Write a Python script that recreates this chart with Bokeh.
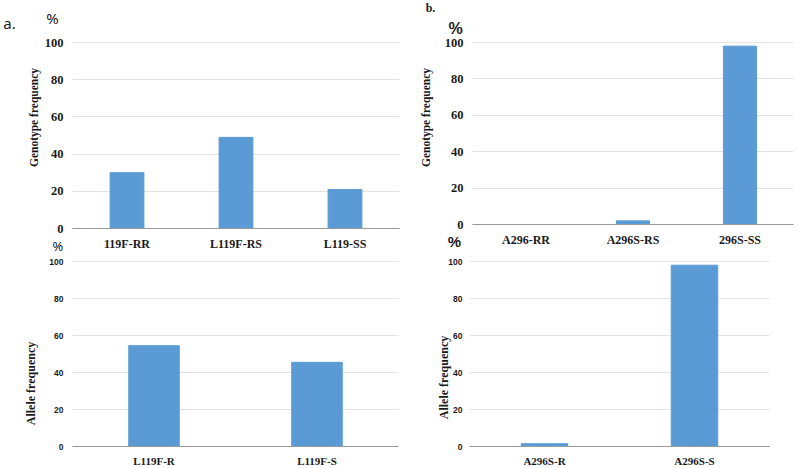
import math
from bokeh.plotting import figure
from bokeh.models import Label, FixedTicker, Range1d, Grid
from bokeh.layouts import column, row
from bokeh.embed import file_html
from bokeh.resources import INLINE

# ---- data ----
geno_a_cats = ["119F-RR", "L119F-RS", "L119-SS"]
geno_a_vals = [30, 49, 21]
geno_b_cats = ["A296-RR", "A296S-RS", "296S-SS"]
geno_b_vals = [0, 2, 98]
allele_a_cats = ["L119F-R", "L119F-S"]
allele_a_vals = [54.5, 45.5]
allele_b_cats = ["A296S-R", "A296S-S"]
allele_b_vals = [1.5, 98]
y_ticks = [0, 20, 40, 60, 80, 100]

BAR = "#5b9bd5"
SERIF = "Liberation Serif"
SANS = "Liberation Sans"
TXT = "#1a1a1a"
HAS_CROSS = "cross_bounds" in Grid.properties()


class Panel:
    """A figure whose frame is the whole canvas; axes sit at fixed data locations."""

    def __init__(self, cats, vals, w, h, x0px, catw, y0px, ppu,
                 tick_font, tick_size, tick_standoff, cat_size, cat_standoff):
        self.x0px, self.catw, self.y0px, self.ppu = x0px, catw, y0px, ppu
        n = len(cats)
        xs = [i + 0.5 for i in range(n)]
        p = figure(width=w, height=h,
                   x_range=Range1d(-x0px / catw, (w - x0px) / catw),
                   y_range=Range1d(-(h - y0px) / ppu, y0px / ppu),
                   output_backend="svg", toolbar_location=None,
                   min_border_left=0, min_border_right=0,
                   min_border_top=0, min_border_bottom=0)
        p.outline_line_color = None
        p.background_fill_color = "white"
        p.border_fill_color = "white"
        p.xgrid.grid_line_color = None
        if HAS_CROSS:
            p.ygrid.grid_line_color = "#e3e3e3"
            p.ygrid.cross_bounds = (0, n)
        else:
            p.ygrid.grid_line_color = None
            p.segment(x0=0, x1=n, y0=y_ticks[1:], y1=y_ticks[1:],
                      line_color="#e3e3e3", line_width=1)
        p.vbar(x=xs, top=vals, width=0.31, color=BAR, line_color=BAR)

        ya = p.yaxis[0]
        ya.fixed_location = 0
        ya.ticker = FixedTicker(ticks=y_ticks)
        ya.axis_line_color = None
        ya.major_tick_line_color = None
        ya.minor_tick_line_color = None
        ya.major_tick_out = 0
        ya.major_tick_in = 0
        ya.major_label_standoff = tick_standoff
        ya.major_label_text_font = tick_font
        ya.major_label_text_font_size = tick_size
        ya.major_label_text_font_style = "bold"
        ya.major_label_text_color = TXT

        xa = p.xaxis[0]
        xa.fixed_location = 0
        xa.bounds = (0, n)
        xa.ticker = FixedTicker(ticks=xs)
        xa.major_label_overrides = {x: c for x, c in zip(xs, cats)}
        xa.axis_line_color = "#9a9a9a"
        xa.axis_line_width = 1
        xa.major_tick_line_color = None
        xa.minor_tick_line_color = None
        xa.major_tick_out = 0
        xa.major_tick_in = 0
        xa.major_label_standoff = cat_standoff
        xa.major_label_text_font = SERIF
        xa.major_label_text_font_size = cat_size
        xa.major_label_text_font_style = "bold"
        xa.major_label_text_color = TXT
        self.p = p

    def text(self, px, py, text, font, size, style="normal", angle=0.0):
        # px, py: wanted centre of the text in canvas pixels
        x = (px - self.x0px) / self.catw
        y = (self.y0px - py) / self.ppu
        self.p.add_layout(Label(x=x, y=y, text=text, text_font=font,
                                text_font_size=size, text_font_style=style,
                                text_align="center", text_baseline="middle",
                                angle=angle, text_color=TXT))


ROW1_H = 256
ROW2_H = 210

# top-left: genotype a
tl = Panel(geno_a_cats, geno_a_vals, 400, ROW1_H, 72, 109, 228, 1.86,
           SERIF, "12.5px", 9, "12px", 8)
tl.text(9, 22, "a.", "Noto Sans", "15px")
tl.text(52, 17, "%", "Noto Sans", "15px")
tl.text(33, 117, "Genotype frequency", SERIF, "11.5px", "bold", math.pi / 2)
tl.text(57.5, 245.5, "%", "Noto Sans", "13px")

# top-right: genotype b
tr = Panel(geno_b_cats, geno_b_vals, 396, ROW1_H, 72, 107, 224, 1.82,
           SERIF, "12.5px", 9, "12px", 8)
tr.text(30, 7, "b.", SERIF, "12px", "bold")
tr.text(55, 28, "%", SANS, "16px", "bold")
tr.text(25, 117, "Genotype frequency", SERIF, "11.5px", "bold", math.pi / 2)
tr.text(54, 241, "%", SANS, "15px", "bold")

# bottom-left: allele a
bl = Panel(allele_a_cats, allele_a_vals, 400, ROW2_H, 72, 163, 190, 1.85,
           SANS, "8.5px", 9, "11px", 8)
bl.text(30, 127, "Allele frequency", SERIF, "12px", "bold", math.pi / 2)

# bottom-right: allele b
br = Panel(allele_b_cats, allele_b_vals, 396, ROW2_H, 69, 150, 190, 1.85,
           SANS, "8.5px", 7, "11px", 8)
br.text(43, 121, "Allele frequency", SERIF, "12px", "bold", math.pi / 2)

layout = column(row(tl.p, tr.p), row(bl.p, br.p))
open("out.html", "w").write(file_html(layout, INLINE))
